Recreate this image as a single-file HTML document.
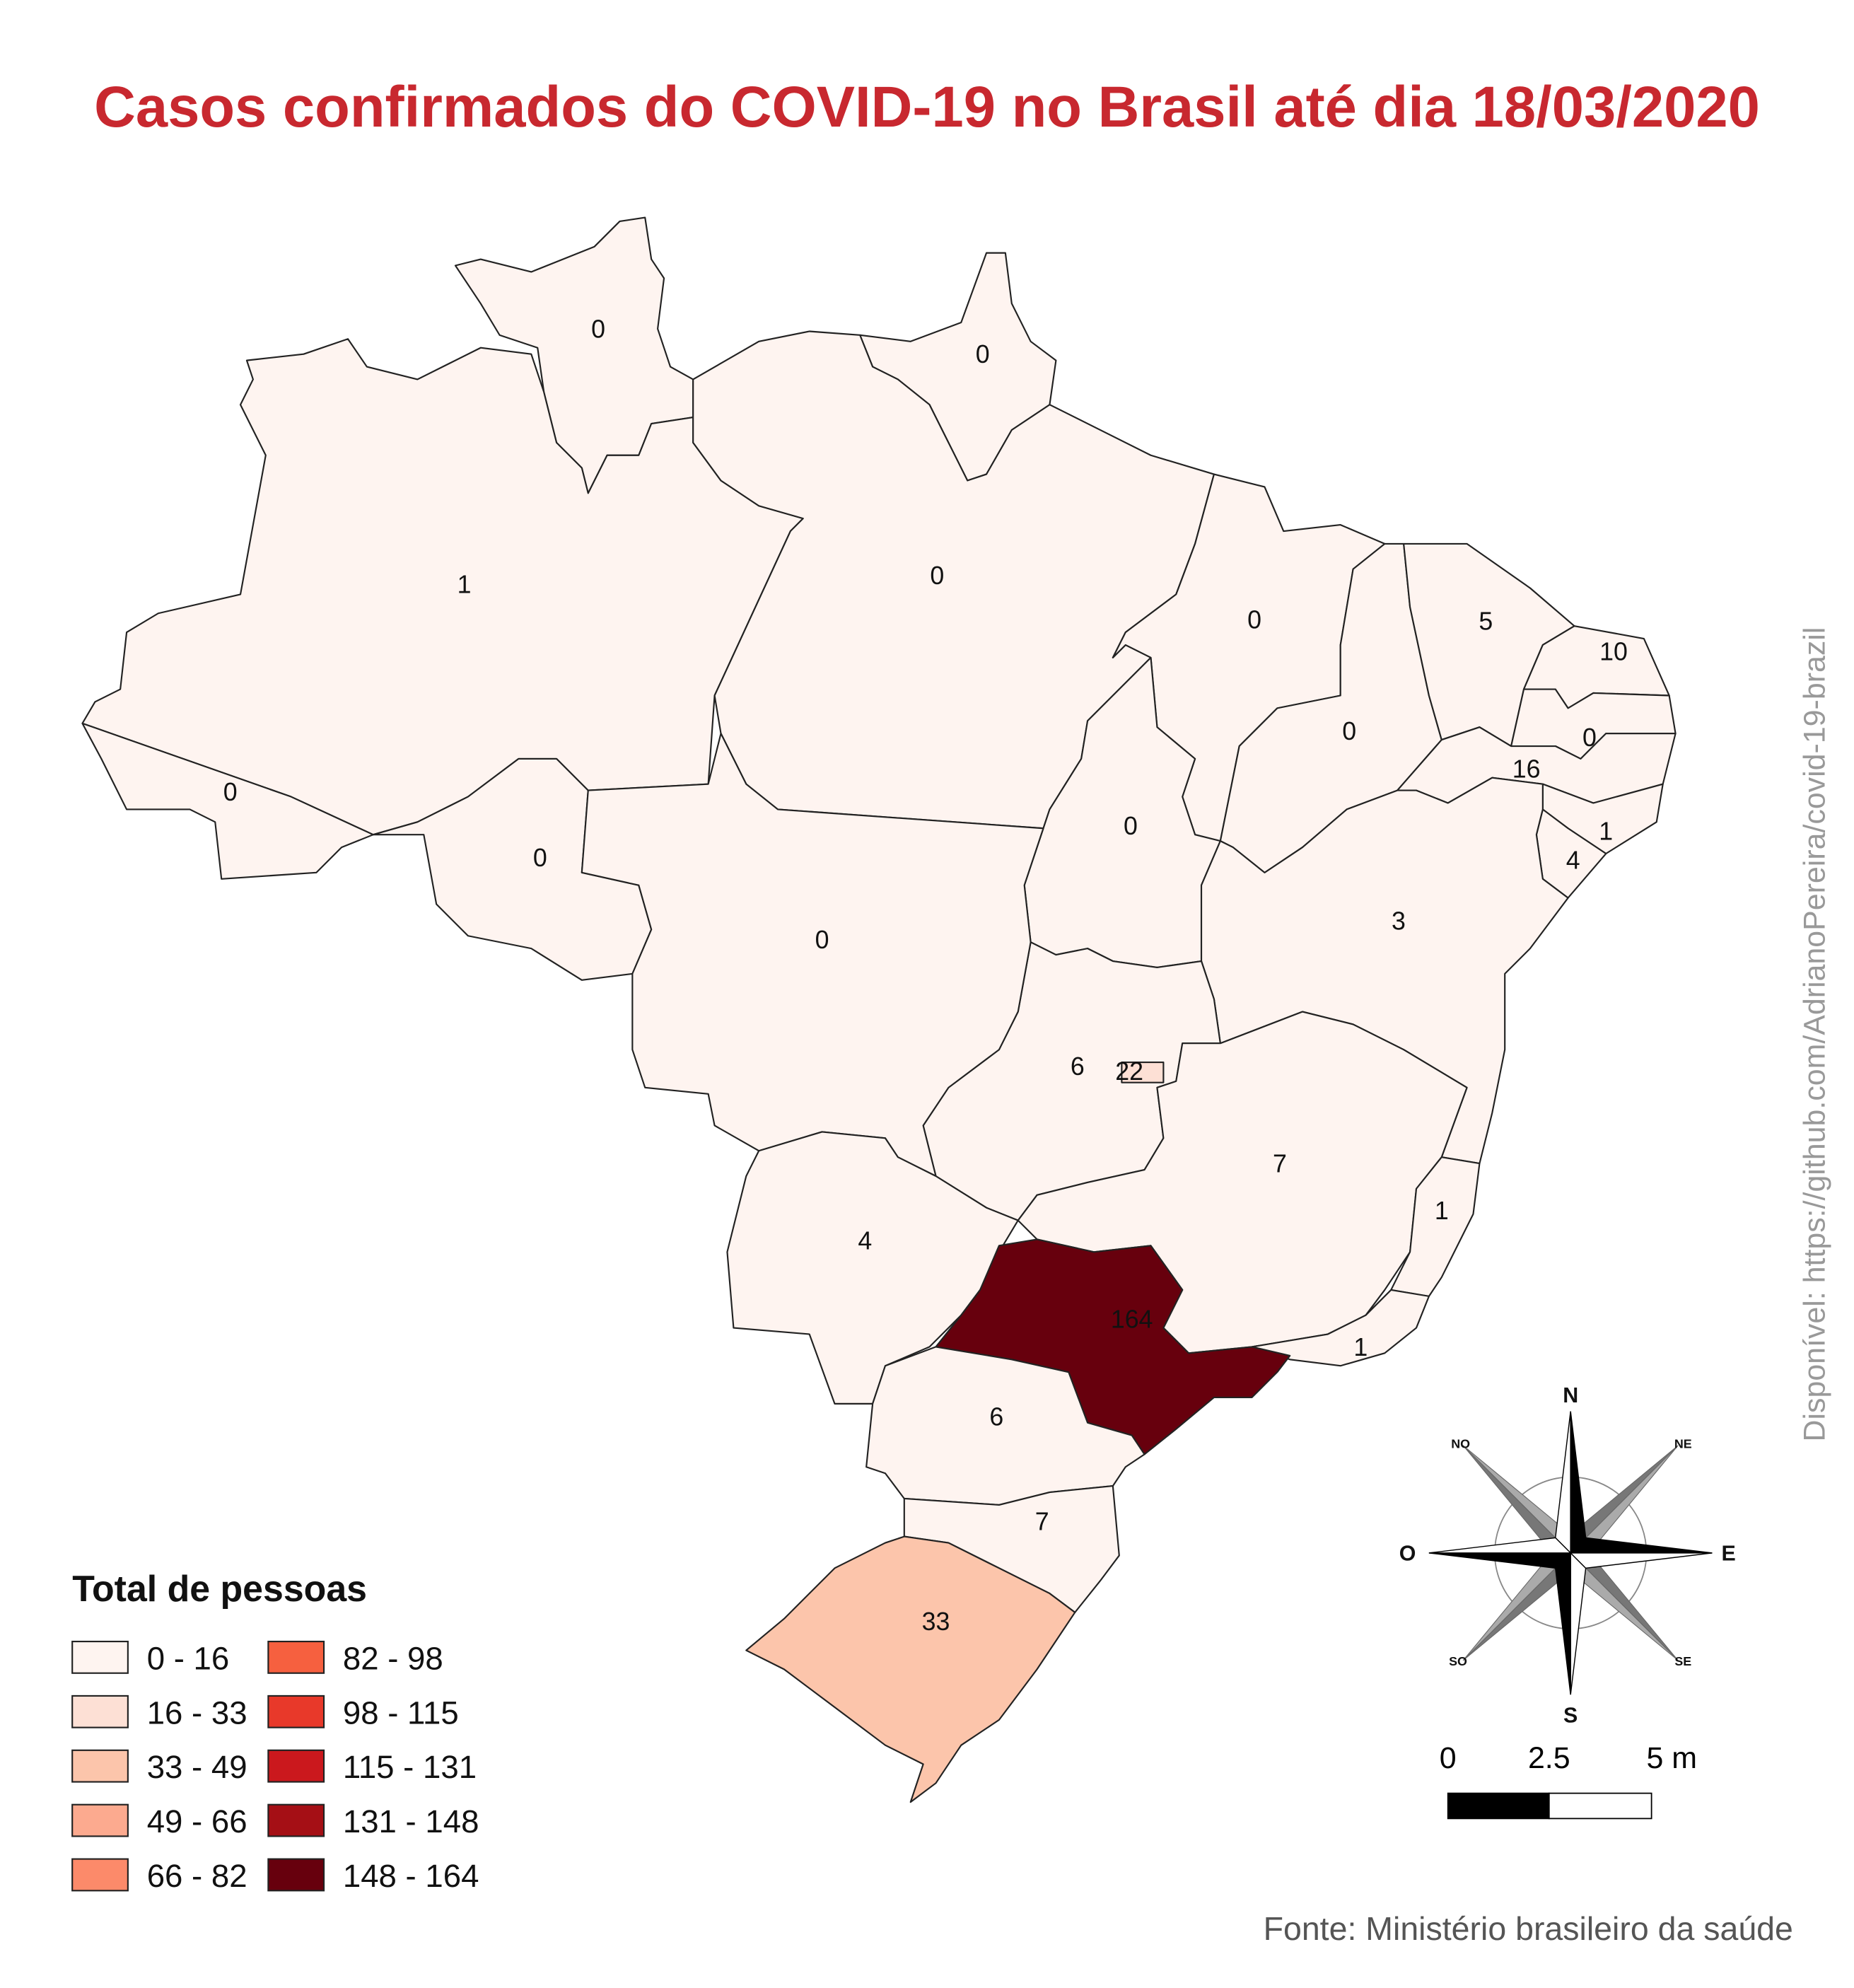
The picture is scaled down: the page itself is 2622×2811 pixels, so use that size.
<!DOCTYPE html>
<html><head><meta charset="utf-8"><style>
html,body{margin:0;padding:0;background:#fff;}
svg{display:block;font-family:"Liberation Sans",sans-serif;}
</style></head><body>
<svg id="map" width="2622" height="2811" viewBox="0 0 1466 1572" xmlns="http://www.w3.org/2000/svg">
<rect width="1466" height="1572" fill="#fff"/>
<text x="733" y="100" text-anchor="middle" font-size="45.5" font-weight="bold" fill="#c8282f">Casos confirmados do COVID-19 no Brasil até dia 18/03/2020</text>
<g id="states"></g>
<g id="labels" font-size="20" fill="#111" text-anchor="middle"></g>
<text transform="translate(1443,1140) rotate(-90)" font-size="24" fill="#999">Disponível: https://github.com/AdrianoPereira/covid-19-brazil</text>
<text x="1418" y="1534" text-anchor="end" font-size="26" fill="#555">Fonte: Ministério brasileiro da saúde</text>
<g id="legend">
<text x="57" y="1266" font-size="29" font-weight="bold" fill="#111">Total de pessoas</text>
</g>
<g transform="translate(1242,1228)">
<circle r="60" fill="none" stroke="#888" stroke-width="1"/>
<g fill="#aaa" stroke="#666" stroke-width="0.6">
<polygon points="0,0 85,-85 18,-4"/><polygon points="0,0 85,-85 4,-18" fill="#777"/>
<polygon points="0,0 -85,-85 -18,-4" fill="#777"/><polygon points="0,0 -85,-85 -4,-18"/>
<polygon points="0,0 85,85 18,4" fill="#777"/><polygon points="0,0 85,85 4,18"/>
<polygon points="0,0 -85,85 -18,4"/><polygon points="0,0 -85,85 -4,18" fill="#777"/>
</g>
<g stroke="#000" stroke-width="0.8">
<polygon points="0,0 0,-112 -12,-12" fill="#fff"/><polygon points="0,0 0,-112 12,-12" fill="#000"/>
<polygon points="0,0 0,112 12,12" fill="#fff"/><polygon points="0,0 0,112 -12,12" fill="#000"/>
<polygon points="0,0 112,0 12,-12" fill="#000"/><polygon points="0,0 112,0 12,12" fill="#fff"/>
<polygon points="0,0 -112,0 -12,12" fill="#000"/><polygon points="0,0 -112,0 -12,-12" fill="#fff"/>
</g>
<g font-weight="bold" text-anchor="middle" fill="#111">
<text y="-119" font-size="17">N</text><text y="134" font-size="17">S</text>
<text x="125" y="6" font-size="17">E</text><text x="-129" y="6" font-size="17">O</text>
<text x="-87" y="-83" font-size="10">NO</text><text x="89" y="-83" font-size="10">NE</text>
<text x="-89" y="89" font-size="10">SO</text><text x="89" y="89" font-size="10">SE</text>
</g>
</g>
<g>
<text x="1145" y="1398" font-size="24" text-anchor="middle">0</text>
<text x="1225" y="1398" font-size="24" text-anchor="middle">2.5</text>
<text x="1322" y="1398" font-size="24" text-anchor="middle">5 m</text>
<rect x="1145" y="1418" width="80" height="20" fill="#000" stroke="#000"/>
<rect x="1225" y="1418" width="81" height="20" fill="#fff" stroke="#000"/>
</g>
</svg>
<script>
const stateNames=["RR","AP","AM","AC","RO","PA","MA","TO","PI","CE","RN","PB","PE","AL","SE","BA","GO","MT","MS","MG","ES","RJ","SP","PR","SC","RS","DF"];
const stateCases=[0,0,1,0,0,0,0,0,0,5,10,0,16,1,4,3,6,0,4,7,1,1,164,6,7,33,22];
const binLabels=["0 - 16","16 - 33","33 - 49","49 - 66","66 - 82","82 - 98","98 - 115","115 - 131","131 - 148","148 - 164"];
const binColors=["#fef4f0","#fde0d5","#fcc5ab","#fcaa8f","#fc8a6a","#f6603f","#e8392a","#cb181d","#a50f15","#67000d"];
const maxCases=164;
const shapes={
RR:"360,210 380,205 420,215 470,195 490,175 510,172 515,205 525,220 520,260 530,290 548,300 548,330 515,335 505,360 480,360 465,390 460,370 440,350 430,310 425,275 395,265 380,240",
AP:"680,265 720,270 760,255 780,200 795,200 800,240 815,270 835,285 830,320 800,340 780,375 765,380 750,350 735,320 710,300 690,290",
AM:"195,285 240,280 275,268 290,290 330,300 380,275 420,280 430,310 440,350 460,370 465,390 480,360 505,360 515,335 548,330 548,350 570,380 600,400 635,410 625,420 565,550 560,620 465,625 440,600 410,600 370,630 330,650 295,660 230,630 65,572 75,555 95,545 100,500 125,485 190,470 210,360 190,320 200,300",
AC:"65,572 230,630 295,660 270,670 250,690 175,695 170,650 150,640 100,640 80,600",
RO:"295,660 330,650 370,630 410,600 440,600 465,625 460,690 505,700 515,735 500,770 460,775 420,750 370,740 345,715 335,660",
PA:"548,300 600,270 640,262 680,265 690,290 710,300 735,320 750,350 765,380 780,375 800,340 830,320 870,340 910,360 960,375 945,430 930,470 890,500 880,520 890,510 910,520 860,570 855,600 830,640 825,655 615,640 590,620 570,580 565,550 625,420 635,410 600,400 570,380 548,350",
MA:"960,375 1000,385 1015,420 1060,415 1095,430 1070,450 1060,510 1060,550 1010,560 980,590 970,640 965,665 945,660 935,630 945,600 915,575 910,520 890,510 880,520 890,500 930,470 945,430",
TO:"910,520 915,575 945,600 935,630 945,660 965,665 950,700 950,760 915,765 880,760 860,750 835,755 815,745 810,700 825,655 830,640 855,600 860,570",
PI:"1095,430 1110,430 1115,480 1130,550 1140,585 1105,625 1065,640 1030,670 1000,690 975,670 965,665 970,640 980,590 1010,560 1060,550 1060,510 1070,450",
CE:"1110,430 1160,430 1210,465 1245,495 1220,510 1205,545 1195,590 1170,575 1140,585 1130,550 1115,480",
RN:"1245,495 1300,505 1320,550 1260,548 1240,560 1230,545 1205,545 1220,510",
PB:"1205,545 1230,545 1240,560 1260,548 1320,550 1325,580 1270,580 1250,600 1230,590 1195,590",
PE:"1140,585 1170,575 1195,590 1230,590 1250,600 1270,580 1325,580 1315,620 1260,635 1220,620 1180,615 1145,635 1120,625 1105,625",
AL:"1315,620 1310,650 1270,675 1240,655 1220,640 1220,620 1260,635",
SE:"1220,640 1240,655 1270,675 1240,710 1220,695 1215,660",
BA:"1105,625 1120,625 1145,635 1180,615 1220,620 1220,640 1215,660 1220,695 1240,710 1210,750 1190,770 1190,830 1180,880 1170,920 1140,915 1160,860 1110,830 1070,810 1030,800 965,825 960,790 950,760 950,700 965,665 975,670 1000,690 1030,670 1065,640",
GO:"815,745 835,755 860,750 880,760 915,765 950,760 960,790 965,825 935,825 930,855 915,860 920,900 905,925 860,935 820,945 805,965 780,955 740,930 730,890 750,860 790,830 805,800",
MT:"465,625 560,620 570,580 590,620 615,640 825,655 810,700 815,745 805,800 790,830 750,860 730,890 740,930 710,915 700,900 650,895 600,910 565,890 560,865 510,860 500,830 500,770 515,735 505,700 460,690",
MS:"600,910 650,895 700,900 710,915 740,930 780,955 805,965 790,990 775,1020 760,1040 735,1065 700,1080 690,1110 660,1110 640,1055 580,1050 575,990 590,930",
MG:"965,825 1030,800 1070,810 1110,830 1160,860 1140,915 1120,940 1115,990 1095,1020 1080,1040 1050,1055 990,1065 940,1070 920,1050 935,1020 910,985 865,990 820,980 805,965 820,945 860,935 905,925 920,900 915,860 930,855 935,825",
ES:"1140,915 1170,920 1165,960 1140,1010 1130,1025 1100,1020 1115,990 1120,940",
RJ:"1100,1020 1130,1025 1120,1050 1095,1070 1060,1080 1020,1075 990,1065 1050,1055 1080,1040",
SP:"790,985 820,980 865,990 910,985 935,1020 920,1050 940,1070 990,1065 1020,1072 1010,1085 990,1105 960,1105 930,1130 905,1150 895,1135 860,1125 845,1085 800,1075 740,1065 760,1040 775,1020",
PR:"740,1065 800,1075 845,1085 860,1125 895,1135 905,1150 890,1160 880,1175 830,1180 790,1190 715,1185 700,1165 685,1160 690,1110 700,1080",
SC:"715,1185 790,1190 830,1180 880,1175 885,1230 870,1250 850,1275 830,1260 790,1240 750,1220 715,1215",
RS:"715,1215 750,1220 790,1240 830,1260 850,1275 820,1320 790,1360 760,1380 740,1410 720,1425 730,1395 700,1380 660,1350 620,1320 590,1305 620,1280 660,1240 700,1220",
DF:"887,840 920,840 920,856 887,856"};
const labelPos={RR:[473,260],AP:[777,280],AM:[367,462],AC:[182,626],RO:[427,678],PA:[741,455],MA:[992,490],TO:[894,653],PI:[1067,578],CE:[1175,491],RN:[1276,515],PB:[1257,583],PE:[1207,608],AL:[1270,657],SE:[1244,680],BA:[1106,728],GO:[852,843],MT:[650,743],MS:[684,981],MG:[1012,920],ES:[1140,957],RJ:[1076,1065],SP:[895,1043],PR:[788,1120],SC:[824,1203],RS:[740,1282],DF:[893,847]};
function binOf(v){return Math.min(9,Math.floor(v/(maxCases/10)));}
const NS="http://www.w3.org/2000/svg";
const sg=document.getElementById("states"),lg=document.getElementById("labels"),leg=document.getElementById("legend");
stateNames.forEach((s,i)=>{
 const p=document.createElementNS(NS,"polygon");
 p.setAttribute("points",shapes[s]);
 p.setAttribute("fill",binColors[binOf(stateCases[i])]);
 p.setAttribute("stroke","#222");p.setAttribute("stroke-width","1.2");p.setAttribute("stroke-linejoin","round");
 
 
 sg.appendChild(p);
 const t=document.createElementNS(NS,"text");
 t.setAttribute("x",labelPos[s][0]);t.setAttribute("y",labelPos[s][1]+7);
 t.textContent=stateCases[i];
 
 
 lg.appendChild(t);
});
binLabels.forEach((l,i)=>{
 const col=i<5?0:1,row=i%5;
 const x=57+col*155,y=1298+row*43;
 const r=document.createElementNS(NS,"rect");
 r.setAttribute("x",x);r.setAttribute("y",y);r.setAttribute("width",44);r.setAttribute("height",25);
 r.setAttribute("fill",binColors[i]);r.setAttribute("stroke","#222");r.setAttribute("stroke-width","1.2");
 
 
 leg.appendChild(r);
 const t=document.createElementNS(NS,"text");
 t.setAttribute("x",x+59);t.setAttribute("y",y+22);t.setAttribute("font-size","25.5");t.setAttribute("fill","#111");
 t.textContent=l;
 
 
 leg.appendChild(t);
});
</script>
</body></html>
